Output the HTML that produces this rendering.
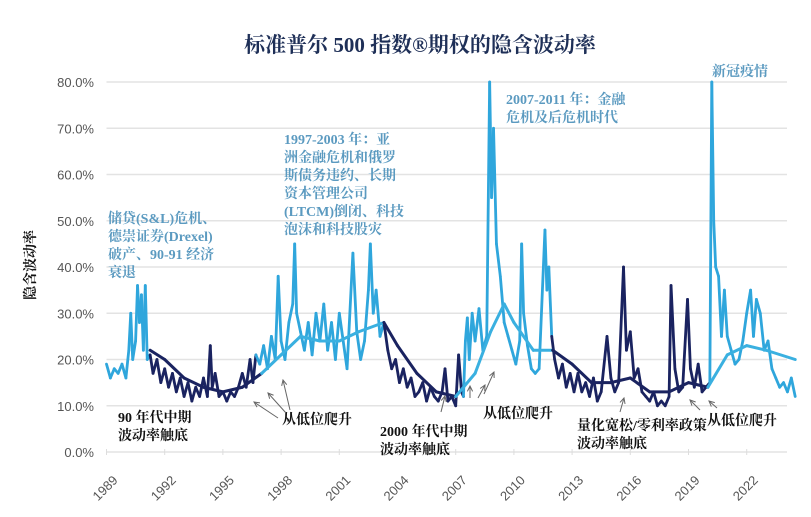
<!DOCTYPE html>
<html><head><meta charset="utf-8">
<style>
body{margin:0;background:#fff;}
svg{display:block;}
.t{font-family:"Liberation Serif","Noto Serif CJK SC","Noto Sans CJK SC",serif;font-weight:bold;}
.ax{font-family:"Liberation Sans","Noto Sans CJK SC",sans-serif;font-size:13px;fill:#555;}
</style></head>
<body>
<svg id="chart" width="811" height="517" viewBox="0 0 811 517" xmlns="http://www.w3.org/2000/svg">
<text class="t" x="420" y="52" text-anchor="middle" font-size="21" fill="#1e2f57">标准普尔 500 指数®期权的隐含波动率</text>
<text class="t" transform="translate(35,265) rotate(-90)" text-anchor="middle" font-size="14" fill="#111">隐含波动率</text>
<g id="grid"></g><g id="yt"></g><g id="xt"></g><g id="series"></g><g id="ann"></g>
</svg>
<script>
const yTicks=[0,10,20,30,40,50,60,70,80];
const xTickYears=[1989,1992,1995,1998,2001,2004,2007,2010,2013,2016,2019,2022];
const dates=[1989.0,1989.2,1989.4,1989.6,1989.8,1990.0,1990.15,1990.25,1990.35,1990.5,1990.6,1990.7,1990.8,1990.9,1991.0,1991.1,1991.25,
1991.4,1991.6,1991.8,1992.0,1992.2,1992.4,1992.6,1992.8,1993.0,1993.2,1993.4,1993.6,1993.8,1994.0,1994.2,1994.35,1994.45,1994.6,1994.8,1995.0,1995.2,1995.4,1995.6,1995.8,1996.0,1996.2,1996.4,1996.55,1996.7,
1996.9,1997.1,1997.3,1997.5,1997.7,1997.85,1998.0,1998.2,1998.4,1998.6,1998.7,1998.8,1999.0,1999.2,1999.4,1999.6,1999.8,2000.0,2000.2,2000.4,2000.6,2000.8,2001.0,2001.2,2001.4,2001.7,2001.9,2002.1,2002.3,2002.5,2002.6,2002.75,2002.9,2003.1,2003.3,
2003.5,2003.7,2003.9,2004.1,2004.3,2004.5,2004.7,2004.9,2005.1,2005.3,2005.5,2005.7,2005.9,2006.1,2006.3,2006.45,2006.6,2006.8,2007.0,2007.15,2007.3,2007.4,
2007.5,2007.6,2007.7,2007.85,2008.0,2008.2,2008.4,2008.6,2008.75,2008.85,2008.95,2009.1,2009.3,2009.5,2009.7,2009.9,2010.1,2010.3,2010.4,2010.5,2010.7,2010.9,2011.1,2011.3,2011.6,2011.7,2011.8,2011.95,
2012.1,2012.3,2012.5,2012.7,2012.9,2013.1,2013.3,2013.5,2013.7,2013.9,2014.1,2014.3,2014.5,2014.8,2015.0,2015.2,2015.4,2015.65,2015.8,2016.0,2016.2,2016.4,2016.6,2016.8,2017.0,2017.2,2017.4,2017.6,2017.8,2018.0,2018.1,2018.3,2018.5,2018.7,2018.95,2019.1,2019.3,2019.5,2019.7,2019.9,2020.1,
2020.2,2020.3,2020.4,2020.55,2020.7,2020.85,2021.0,2021.2,2021.4,2021.6,2021.8,2022.0,2022.2,2022.35,2022.5,2022.7,2022.9,2023.1,2023.3,2023.5,2023.7,2023.9,2024.1,2024.3,2024.5];
const vols=[19,16,18,17,19,16,22,30,20,24,36,28,34,22,36,20,21,
17,20,15,18,14,17,13,16,12,15,11,14,12,16,12,23,14,17,12,13,11,13,12,14,17,14,20,15,21,
19,23,18,25,20,38,24,20,28,32,45,30,26,22,28,21,30,24,32,22,28,20,30,24,18,43,26,20,24,35,45,30,35,25,28,
22,18,20,15,18,14,16,12,13,15,11,14,12,11,13,18,11,12,10,21,13,12,
24,29,20,30,24,31,22,25,80,55,70,45,38,28,25,22,19,24,45,30,23,18,17,18,48,35,40,25,
20,16,19,14,17,13,17,13,15,12,16,11,13,25,16,13,15,40,22,26,16,18,13,12,11,13,10,11,10,12,36,18,13,14,33,18,14,19,13,14,15,
80,50,40,38,25,35,25,22,19,20,24,30,35,25,33,30,22,24,18,16,14,15,13,16,12];
const trendDates=[1991.25,1992,1993,1994,1995,1996,1997,1998,1999,2000,2001,2002,2003.3,2004,2005,2006,2007,2008,2008.8,2009.5,2010,2011,2012,2013,2014,2015,2016,2017,2018,2019,2020,2021,2022,2023,2024.5];
const trendVals=[22,20,16,14,13,14,17,21,25,24,24,26,28,23,17,13,12,17,26,32,28,22,22,19,15,15,16,13,13,15,14,21,23,22,20];
const darkStart=[1991.25,2003.3,2011.95];
const darkEnd=[1996.7,2007.4,2020.1];

const X0=106.5,PX=19.4,Y0=452,PY=4.625;
const sx=y=>X0+(y-1989)*PX, sy=v=>Y0-v*PY;
const NS='http://www.w3.org/2000/svg';
function mk(tag,attrs,parent){const e=document.createElementNS(NS,tag);for(const k in attrs)e.setAttribute(k,attrs[k]);parent.appendChild(e);return e;}
const isDark=t=>darkStart.some((s,i)=>t>=s&&t<=darkEnd[i]);
const grid=document.getElementById('grid'),yt=document.getElementById('yt'),xt=document.getElementById('xt'),ser=document.getElementById('series');
yTicks.forEach(v=>{
 const l=mk('line',{x1:X0,x2:787,y1:sy(v),y2:sy(v),stroke:'#e3e3e3','stroke-width':1.5},grid);
 
 
 const t=mk('text',{x:94,y:sy(v)+5,'text-anchor':'end',class:'ax'},yt);
 t.textContent=v.toFixed(1)+'%';
 
 
});
xTickYears.forEach(y=>{
 const x=sx(y);
 const tk=mk('line',{x1:x,x2:x,y1:Y0-3,y2:Y0+3,stroke:'#ddd'},xt);
 
 
 const t=mk('text',{x:x+12,y:481,'text-anchor':'end',class:'ax',transform:`rotate(-45 ${x+12} 481)`},xt);
 t.textContent=y;
 
 
});
function drawSegs(ds,vs,w,light,dark,name){
 for(let i=0;i<ds.length-1;i++){
  const m=(ds[i]+ds[i+1])/2;
  const p=mk('line',{x1:sx(ds[i]),y1:sy(vs[i]),x2:sx(ds[i+1]),y2:sy(vs[i+1]),stroke:isDark(m)?dark:light,'stroke-width':w,'stroke-linecap':'round'},ser);
  
  
 }
}
drawSegs(dates,vols,2.8,'#2fa6dc','#1a2360','implied-volatility-line');
drawSegs(trendDates,trendVals,3,'#3ab0e0','#1a2360','trend-line');

const ann=document.getElementById('ann');
function txt(lines,x,y,col,size,name,lh){
 const t=mk('text',{x:x,y:y,class:'t','font-size':size,fill:col},ann);
 
 
 lines.forEach((s,i)=>{const sp=mk('tspan',{x:x,dy:i?lh:0},t);sp.textContent=s;});
}
const LC='#5b9ac0';
txt(['储贷(S&L)危机、','德崇证券(Drexel)','破产、90-91 经济','衰退'],108,223,LC,14,'annotation-sl-crisis',18);
txt(['1997-2003 年：亚','洲金融危机和俄罗','斯债务违约、长期','资本管理公司','(LTCM)倒闭、科技','泡沫和科技股灾'],284,144,LC,14,'annotation-1997-2003',18);
txt(['2007-2011 年：金融','危机及后危机时代'],506,104,LC,14,'annotation-2007-2011',18);
txt(['新冠疫情'],712,76,LC,14,'annotation-covid',18);
txt(['90 年代中期','波动率触底'],118,422,'#111',14,'annotation-mid-90s-low',18);
txt(['从低位爬升'],282,424,'#111',14,'annotation-rise-1',18);
txt(['2000 年代中期','波动率触底'],380,436,'#111',14,'annotation-2000s-low',18);
txt(['从低位爬升'],483,418,'#111',14,'annotation-rise-2',18);
txt(['量化宽松/零利率政策','波动率触底'],577,430,'#111',14,'annotation-qe-low',18);
txt(['从低位爬升'],707,425,'#111',14,'annotation-rise-3',18);
const arrows=[[278,418,254,402],[286,413,268,393],[290,410,283,380],[470,398,470,386],[478,398,485,385],[484,394,494,372],[441,412,445,396],[620,412,624,398],[700,410,690,400],[717,408,709,401]];
arrows.forEach(a=>{
 const l=mk('line',{x1:a[0],y1:a[1],x2:a[2],y2:a[3],stroke:'#666','stroke-width':1},ann);
 
 
 const ang=Math.atan2(a[3]-a[1],a[2]-a[0]);
 const p=[[a[2],a[3]],[a[2]-6*Math.cos(ang-0.45),a[3]-6*Math.sin(ang-0.45)],[a[2]-6*Math.cos(ang+0.45),a[3]-6*Math.sin(ang+0.45)]];
 const h=mk('polyline',{points:p[1].join(',')+' '+p[0].join(',')+' '+p[2].join(','),fill:'none',stroke:'#666','stroke-width':1},ann);
 
 
});
</script>
</body></html>
